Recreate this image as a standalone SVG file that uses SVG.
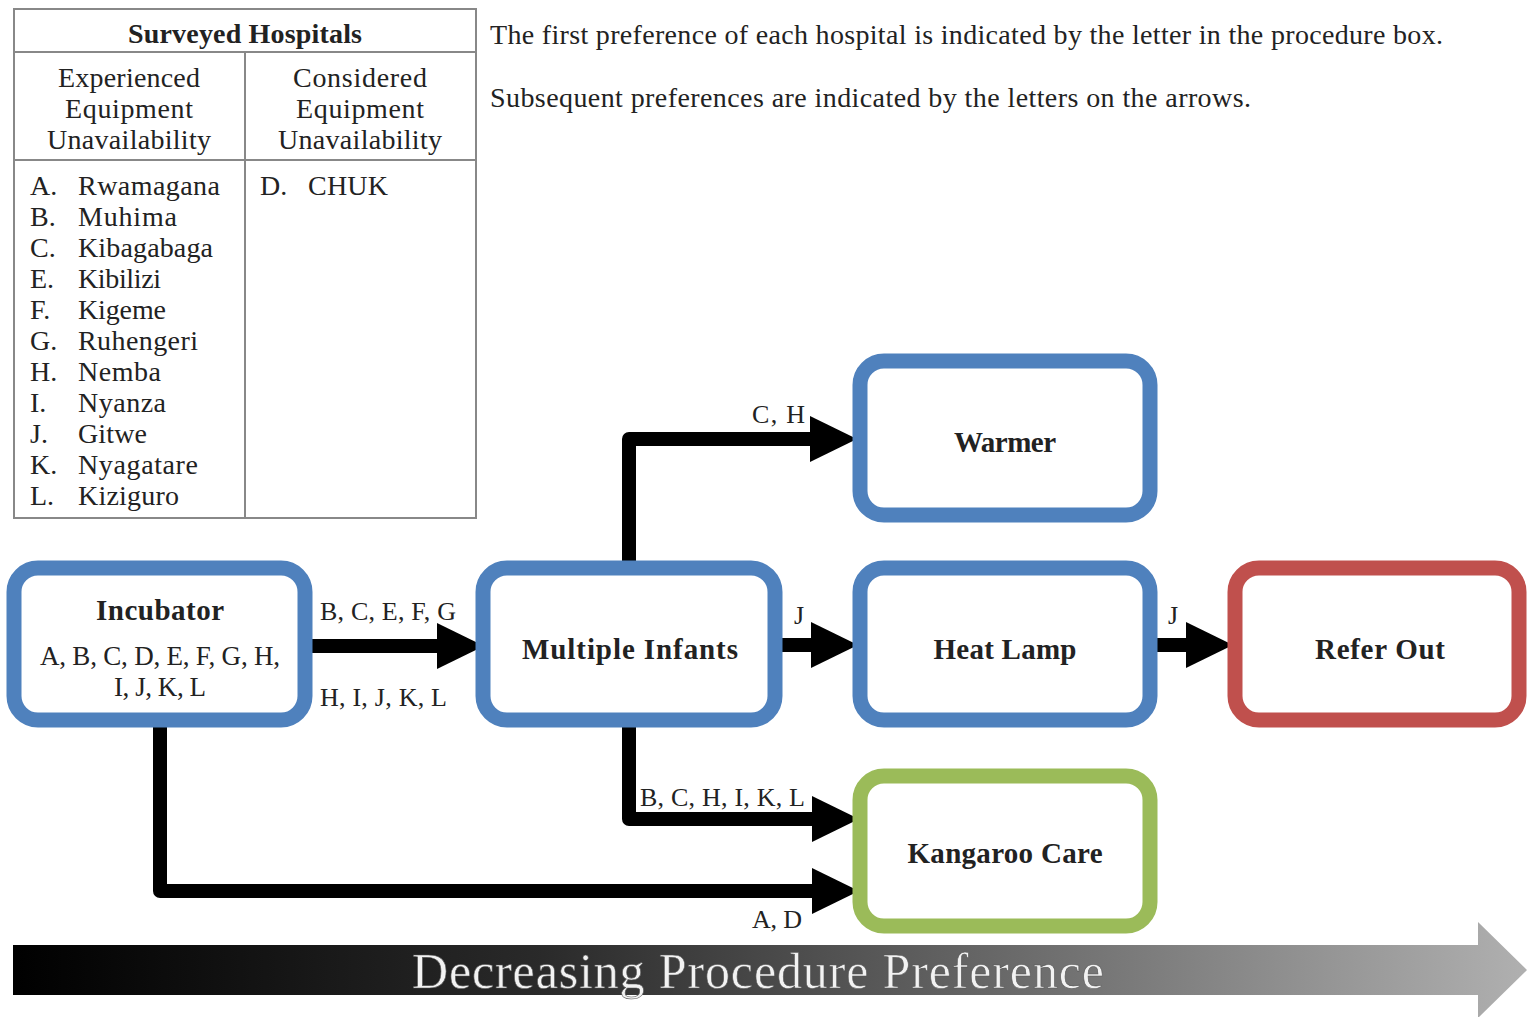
<svg xmlns="http://www.w3.org/2000/svg" width="1528" height="1017" viewBox="0 0 1528 1017">
<defs>
<linearGradient id="grad" x1="0" y1="0" x2="1" y2="0">
<stop offset="0" stop-color="#000"/>
<stop offset="0.35" stop-color="#2a2a2a"/>
<stop offset="1" stop-color="#b0b0b0"/>
</linearGradient>
<marker id="ah" markerUnits="userSpaceOnUse" markerWidth="47" markerHeight="46" viewBox="0 0 47 46" refX="0" refY="23" orient="auto" overflow="visible">
<path d="M0,0 L47,23 L0,46 Z" fill="#000"/>
</marker>
<style>
text{font-family:"Liberation Serif","Times New Roman",serif;fill:#222;}
.tl{stroke:#888;stroke-width:2;fill:none;}
.th{font-size:28px;font-weight:bold;}
.tc{font-size:28px;text-anchor:middle;}
.li{font-size:28px;}
.note{font-size:28px;}
.box{fill:#fff;stroke-width:15;}
.blue{stroke:#4F81BD;}
.red{stroke:#C0504D;}
.green{stroke:#9BBB59;}
.bl{font-size:29px;font-weight:bold;text-anchor:middle;}
.sub{font-size:27px;text-anchor:middle;}
.lab{font-size:26px;}
.con{fill:none;stroke:#000;stroke-width:14;stroke-linejoin:round;marker-end:url(#ah);}
</style>
</defs>
<rect width="1528" height="1017" fill="#fff"/>

<g id="table">
<rect class="tl" x="14" y="9" width="462" height="509"/>
<line class="tl" x1="14" y1="52" x2="476" y2="52"/>
<line class="tl" x1="14" y1="160" x2="476" y2="160"/>
<line class="tl" x1="245" y1="52" x2="245" y2="518"/>
<text class="th" x="245" y="43" text-anchor="middle" textLength="234">Surveyed Hospitals</text>
<text class="tc" x="129" y="87" textLength="142">Experienced</text>
<text class="tc" x="129" y="118" textLength="128">Equipment</text>
<text class="tc" x="129" y="149" textLength="164">Unavailability</text>
<text class="tc" x="360" y="87" textLength="134">Considered</text>
<text class="tc" x="360" y="118" textLength="128">Equipment</text>
<text class="tc" x="360" y="149" textLength="164">Unavailability</text>
<g class="li">
<text x="30" y="195">A.</text><text x="78" y="195" textLength="142">Rwamagana</text>
<text x="30" y="226">B.</text><text x="78" y="226" textLength="99">Muhima</text>
<text x="30" y="257">C.</text><text x="78" y="257" textLength="135">Kibagabaga</text>
<text x="30" y="288">E.</text><text x="78" y="288" textLength="83">Kibilizi</text>
<text x="30" y="319">F.</text><text x="78" y="319" textLength="88">Kigeme</text>
<text x="30" y="350">G.</text><text x="78" y="350" textLength="120">Ruhengeri</text>
<text x="30" y="381">H.</text><text x="78" y="381" textLength="83">Nemba</text>
<text x="30" y="412">I.</text><text x="78" y="412" textLength="88">Nyanza</text>
<text x="30" y="443">J.</text><text x="78" y="443" textLength="69">Gitwe</text>
<text x="30" y="474">K.</text><text x="78" y="474" textLength="120">Nyagatare</text>
<text x="30" y="505">L.</text><text x="78" y="505" textLength="101">Kiziguro</text>
<text x="260" y="195">D.</text><text x="308" y="195" textLength="80">CHUK</text>
</g>
</g>

<g id="notes">
<text class="note" x="490" y="44" textLength="953">The first preference of each hospital is indicated by the letter in the procedure box.</text>
<text class="note" x="490" y="107" textLength="761">Subsequent preferences are indicated by the letters on the arrows.</text>
</g>

<g id="connectors">
<path class="con" d="M312,646 H437"/>
<path class="con" d="M629,562 V439 H810"/>
<path class="con" d="M782,645 H811"/>
<path class="con" d="M1157,645 H1186"/>
<path class="con" d="M629,727 V819 H812"/>
<path class="con" d="M160,727 V891 H812"/>
<text class="lab" x="320" y="620" textLength="136">B, C, E, F, G</text>
<text class="lab" x="320" y="706" textLength="127">H, I, J, K, L</text>
<text class="lab" x="752" y="423" textLength="53">C, H</text>
<text class="lab" x="794" y="624">J</text>
<text class="lab" x="1168" y="624">J</text>
<text class="lab" x="640" y="806" textLength="165">B, C, H, I, K, L</text>
<text class="lab" x="752" y="928" textLength="50">A, D</text>
</g>

<g id="incubator">
<rect class="box blue" x="14" y="568" width="291" height="152" rx="24"/>
<text class="bl" x="160" y="620" textLength="128">Incubator</text>
<text class="sub" x="160" y="665" textLength="240">A, B, C, D, E, F, G, H,</text>
<text class="sub" x="160" y="696" textLength="92">I, J, K, L</text>
</g>
<g id="multiple-infants">
<rect class="box blue" x="483" y="568" width="292" height="152" rx="24"/>
<text class="bl" x="630" y="659" textLength="216">Multiple Infants</text>
</g>
<g id="warmer">
<rect class="box blue" x="860" y="361" width="290" height="154" rx="24"/>
<text class="bl" x="1005" y="452" textLength="102">Warmer</text>
</g>
<g id="heat-lamp">
<rect class="box blue" x="860" y="568" width="290" height="152" rx="24"/>
<text class="bl" x="1005" y="659" textLength="143">Heat Lamp</text>
</g>
<g id="refer-out">
<rect class="box red" x="1235" y="568" width="284" height="152" rx="24"/>
<text class="bl" x="1380" y="659" textLength="130">Refer Out</text>
</g>
<g id="kangaroo-care">
<rect class="box green" x="860" y="776" width="290" height="150" rx="24"/>
<text class="bl" x="1005" y="863" textLength="195">Kangaroo Care</text>
</g>

<g id="preference-arrow">
<polygon points="13,945 1478,945 1478,922 1527,970 1478,1018 1478,995 13,995" fill="url(#grad)"/>
<text x="412" y="988" font-size="50" textLength="692" style="fill:#f2f2f2;stroke:#555;stroke-width:0.6">Decreasing Procedure Preference</text>
</g>
</svg>
